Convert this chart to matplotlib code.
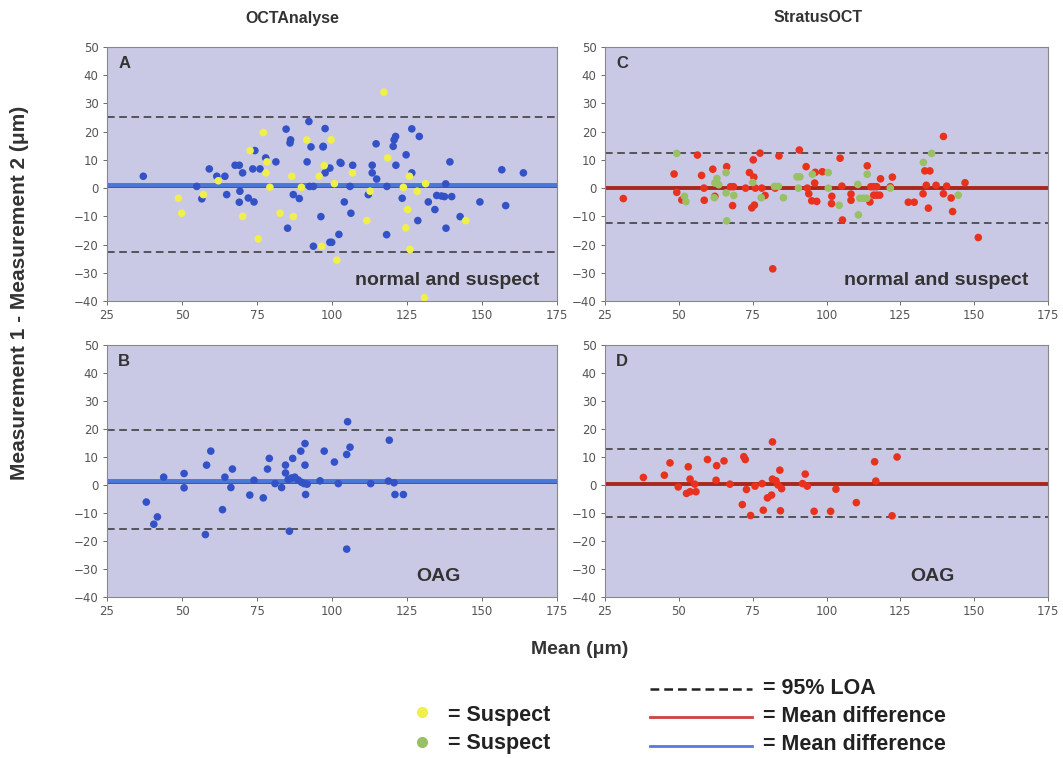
import numpy as np
import matplotlib.pyplot as plt
from matplotlib.lines import Line2D

# Panel A - OCTAnalyse, normal (blue) and suspect (yellow)
a_norm_x = [37.1, 54.9, 56.6, 59.1, 61.6, 64.3, 64.9, 67.7, 69.1, 70.2, 69.3, 69.1, 72.1, 74.0,
            73.6, 76.0, 74.3, 77.9, 81.3, 84.7, 86.2, 86.0, 87.1, 89.1, 85.2, 91.7, 92.3, 93.0,
            97.0, 97.7, 92.5, 93.8, 97.7, 96.3, 93.8, 99.3, 97.1, 99.3, 99.9, 102.3, 102.7,
            103.0, 106.9, 104.1, 106.0, 106.3, 114.7, 113.4, 113.4, 114.9, 112.1, 118.3, 118.2,
            121.2, 120.4, 120.7, 121.3, 124.7, 126.6, 129.1, 126.6, 123.4, 128.6, 132.1, 134.9,
            136.5, 137.5, 139.9, 134.3, 137.9, 139.3, 138.0, 142.7, 149.3, 156.6, 157.9, 163.8]
a_norm_y = [4.2, 0.6, -3.8, 6.8, 4.2, 4.2, -2.3, 8.1, 8.1, 5.4, -1.1, -5.0, -3.5, -4.9,
            6.8, 6.8, 13.3, 10.7, 9.3, 20.9, 17.1, 16.0, -2.3, -3.7, -14.2, 9.3, 23.6, 14.6,
            14.6, 21.1, 0.6, 0.6, 5.4, -10.1, -20.6, -19.2, 14.8, 7.1, -19.2, -16.4, 9.1,
            8.8, 8.1, -4.9, 0.6, -8.9, 15.7, 8.1, 5.4, 3.2, -2.3, 0.6, -16.5,
            18.3, 14.8, 17.1, 8.1, 11.8, 21.0, 18.3, 5.4, -3.6, -11.5, -4.9, -2.6,
            -2.8, -3.0, -3.0, -7.6, 1.5, 9.3, -14.2, -10.1, -4.9, 6.5, -6.2, 5.4]
a_susp_x = [77.1, 72.7, 78.3, 78.0, 62.1, 57.1, 48.8, 49.9, 70.2, 75.4, 79.3, 82.7, 87.1, 86.6,
            89.8, 91.6, 95.7, 97.4, 96.6, 117.3, 99.7, 106.8, 100.8, 112.7, 111.6, 118.6,
            125.8, 123.8, 128.4, 131.2, 125.2, 124.6, 126.0, 101.6, 130.8, 144.6]
a_susp_y = [19.7, 13.3, 9.3, 5.4, 2.6, -2.3, -3.6, -8.9, -10.0, -18.0, 0.3, -8.9, -10.1, 4.2,
            0.3, 17.1, 4.2, 8.0, -20.6, 34.0, 17.1, 5.4, 1.6, -1.1, -11.5, 10.7,
            4.2, 0.3, -1.1, 1.6, -7.6, -14.1, -21.7, -25.5, -38.8, -11.5]

# Panel B - OCTAnalyse, OAG
b_x = [38.1, 40.6, 41.8, 43.9, 50.7, 50.7, 58.2, 59.6, 57.8, 63.5, 64.3, 66.3, 66.8, 72.6, 74.0,
       77.1, 78.5, 79.1, 81.0, 83.2, 84.5, 84.5, 85.4, 86.5, 87.6, 88.7, 89.8, 90.7, 91.7,
       85.8, 86.9, 89.6, 91.0, 91.0, 91.2, 96.0, 97.4, 100.8, 102.1, 104.9, 106.0, 105.2,
       104.9, 112.9, 119.1, 118.8, 120.7, 121.0, 123.8]
b_y = [-6.1, -14.0, -11.4, 2.8, 4.1, -1.0, 7.1, 12.1, -17.7, -8.8, 2.8, -0.9, 5.7, -3.6, 1.7,
       -4.6, 5.7, 9.5, 0.5, -0.9, 7.1, 4.3, 2.0, 2.5, 2.8, 1.8, 1.0, 0.5, 0.3,
       -16.5, 9.5, 12.1, 14.8, 7.1, -3.4, 1.5, 12.1, 8.2, 0.5, 10.9, 13.5, 22.6,
       -22.9, 0.5, 16.0, 1.4, 0.8, -3.4, -3.4]

# Panel C - StratusOCT, normal (red) and suspect (green)
c_norm_x = [31.2, 48.4, 49.3, 51.0, 56.3, 57.7, 58.6, 58.5, 61.5, 62.2, 66.2, 68.2, 67.5, 68.5,
            73.9, 75.2, 77.5, 75.4, 74.7, 75.6, 72.6, 75.9, 78.1, 79.2, 83.9, 81.8, 82.6,
            90.8, 93.1, 93.5, 94.0, 95.0, 96.0, 96.2, 96.7, 98.6, 104.6, 101.8, 101.7, 105.4,
            105.2, 108.3, 108.3, 113.8, 115.0, 116.0, 117.0, 114.7, 116.0, 117.0, 118.0, 118.3,
            122.3, 121.6, 127.7, 129.7, 132.7, 133.3, 135.0, 133.8, 134.5, 137.1, 139.6, 139.6,
            140.7, 142.2, 142.7, 146.9, 151.4]
c_norm_y = [-3.7, 5.0, -1.5, -4.2, 11.7, 4.5, -4.3, 0.0, 6.7, -2.9, 7.6, -6.2, 0.5, 0.5,
            5.5, 10.0, 12.4, 3.9, -7.0, -6.0, 0.0, 0.0, 0.0, -2.6, 11.4, -28.6, 0.0,
            13.5, 7.6, 0.0, -2.0, -4.5, 1.8, 5.6, -4.7, 5.8, 10.6, -2.9, -5.5, -11.3,
            0.7, -2.1, -4.3, 7.9, 0.5, 0.5, 0.5, -4.9, -2.5, -2.5, -2.5, 3.3,
            3.9, 0.5, -5.0, -5.0, -2.0, 6.1, 6.1, 1.0, -7.1, 1.0, 18.3, -2.0,
            0.7, -3.5, -8.3, 1.9, -17.5]
c_susp_x = [49.3, 51.9, 52.4, 62.0, 62.2, 62.9, 63.5, 66.0, 66.0, 68.6, 66.2, 75.0, 77.9, 82.4,
            83.7, 85.4, 90.0, 91.0, 95.2, 90.5, 100.6, 100.6, 104.3, 110.6, 110.8, 111.3,
            112.5, 113.6, 113.8, 121.6, 132.8, 135.6, 144.6]
c_susp_y = [12.3, -2.9, -4.8, -3.4, 1.8, 3.4, 1.2, 5.5, -1.7, -2.6, -11.6, 2.0, -3.4, 0.6,
            0.6, -3.4, 4.0, 4.0, 4.9, 0.0, 5.5, 0.0, -6.1, 1.3, -9.5, -3.6,
            -3.6, -3.6, 4.9, 0.0, 9.1, 12.3, -2.5]

# Panel D - StratusOCT, OAG
d_x = [38.0, 45.1, 47.0, 49.8, 53.2, 53.8, 52.6, 53.8, 55.8, 55.4, 59.7, 62.8, 62.6, 65.3, 67.3,
       71.5, 72.0, 72.5, 72.9, 74.3, 75.8, 78.2, 78.6, 80.0, 81.7, 81.4, 81.7, 82.9, 83.6,
       84.2, 84.4, 84.8, 91.9, 92.8, 93.5, 95.8, 101.4, 103.2, 110.1, 116.3, 116.7, 122.2, 123.9]
d_y = [2.7, 3.5, 7.9, -0.7, 6.5, 2.1, -3.0, -2.4, -2.4, 0.3, 9.1, 6.9, 1.7, 8.6, 0.3,
       -7.0, 10.1, 9.1, -1.6, -10.9, -0.4, 0.5, -9.0, -4.6, 15.4, -3.6, 2.1, 1.5, 0.0,
       5.3, -9.2, -1.3, 0.5, 3.9, -0.4, -9.4, -9.4, -1.5, -6.3, 8.3, 1.4, -11.0, 10.0]

# mean difference and 95% limits of agreement (A, B, C, D)
mean_diff = [1.0, 1.3, 0.0, 0.3]
loa_upper = [25.2, 19.6, 12.3, 12.7]
loa_lower = [-22.7, -15.8, -12.5, -11.5]

BG = '#c9c9e5'
BLUE = '#3452c8'
YELLOW = '#f0f048'
RED = '#e8321e'
GREEN = '#98c064'
BLUE_LINE = '#4a78d8'
RED_LINE = '#a8281c'
ARIAL = 'Liberation Sans'

fig = plt.figure(figsize=(10.63, 7.58), dpi=100)

pos = {
    'A': [107 / 1063, 1 - 301 / 758, 450 / 1063, 254 / 758],
    'C': [605 / 1063, 1 - 301 / 758, 443 / 1063, 254 / 758],
    'B': [107 / 1063, 1 - 597 / 758, 450 / 1063, 252 / 758],
    'D': [605 / 1063, 1 - 597 / 758, 443 / 1063, 252 / 758],
}

# letter, series, mean line colour, note, note right edge (axes fraction)
panels = [
    ('A', [(a_norm_x, a_norm_y, BLUE), (a_susp_x, a_susp_y, YELLOW)], BLUE_LINE, 'normal and suspect', 0.96),
    ('B', [(b_x, b_y, BLUE)], BLUE_LINE, 'OAG', 0.785),
    ('C', [(c_norm_x, c_norm_y, RED), (c_susp_x, c_susp_y, GREEN)], RED_LINE, 'normal and suspect', 0.955),
    ('D', [(d_x, d_y, RED)], RED_LINE, 'OAG', 0.79),
]

for i, (letter, series, line_col, note, note_x) in enumerate(panels):
    ax = fig.add_axes(pos[letter])
    ax.set_facecolor(BG)
    ax.set_xlim(25, 175)
    ax.set_ylim(-40, 50)
    ax.set_xticks(np.arange(25, 176, 25))
    ax.set_yticks(np.arange(-40, 51, 10))
    ax.tick_params(labelsize=8.5, colors='#555555', length=3, width=0.6, pad=3)
    for sp in ax.spines.values():
        sp.set_color('#888888')
        sp.set_linewidth(0.8)

    ax.axhline(loa_upper[i], color='#333333', lw=1.1, ls=(0, (5, 3)), zorder=2)
    ax.axhline(loa_lower[i], color='#333333', lw=1.1, ls=(0, (5, 3)), zorder=2)
    if line_col == BLUE_LINE:
        ax.axhline(mean_diff[i] - 0.6, color='#444444', lw=1.2, zorder=2)
    ax.axhline(mean_diff[i], color=line_col, lw=2.8, zorder=2)

    for xs, ys, col in series:
        ax.scatter(xs, ys, s=30, color=col, edgecolors='none', zorder=3)

    ax.text(0.025, 0.965, letter, transform=ax.transAxes, fontsize=12, fontweight='bold',
            family=ARIAL, color='#333333', va='top', ha='left')
    ax.text(note_x, 0.08, note, transform=ax.transAxes, fontsize=14, fontweight='bold',
            family=ARIAL, color='#333333', va='center', ha='right')

fig.text(292 / 1063, 1 - 18 / 758, 'OCTAnalyse', ha='center', va='center', family=ARIAL,
         fontsize=11.5, fontweight='bold', color='#333333')
fig.text(818 / 1063, 1 - 18 / 758, 'StratusOCT', ha='center', va='center', family=ARIAL,
         fontsize=11.5, fontweight='bold', color='#333333')
fig.text(20 / 1063, 1 - 293 / 758, 'Measurement 1 - Measurement 2 (\u03bcm)', rotation=90,
         ha='center', va='center', fontsize=15, fontweight='bold', family=ARIAL, color='#333333')
fig.text(580 / 1063, 1 - 650 / 758, 'Mean (\u03bcm)', ha='center', va='center', family=ARIAL,
         fontsize=14, fontweight='bold', color='#333333')

# legend block
LEG = 15.5
fig.text(448 / 1063, 1 - 716 / 758, '= Suspect', ha='left', va='center', fontsize=LEG,
         fontweight='bold', family=ARIAL, color='#222222')
fig.text(448 / 1063, 1 - 743 / 758, '= Suspect', ha='left', va='center', fontsize=LEG,
         fontweight='bold', family=ARIAL, color='#222222')
fig.add_artist(Line2D([422 / 1063], [1 - 712 / 758], marker='o', ms=7, color=YELLOW, lw=0))
fig.add_artist(Line2D([422 / 1063], [1 - 742 / 758], marker='o', ms=7, color=GREEN, lw=0))

fig.add_artist(Line2D([650 / 1063, 752 / 1063], [1 - 689 / 758] * 2, color='#222222', lw=1.8,
                      ls=(0, (3.5, 2))))
fig.add_artist(Line2D([650 / 1063, 752 / 1063], [1 - 717 / 758] * 2, color='#d04040', lw=2))
fig.add_artist(Line2D([650 / 1063, 752 / 1063], [1 - 746 / 758] * 2, color='#5878e0', lw=2))
fig.text(763 / 1063, 1 - 689 / 758, '= 95% LOA', ha='left', va='center', fontsize=LEG,
         fontweight='bold', family=ARIAL, color='#222222')
fig.text(763 / 1063, 1 - 717 / 758, '= Mean difference', ha='left', va='center', fontsize=LEG,
         fontweight='bold', family=ARIAL, color='#222222')
fig.text(763 / 1063, 1 - 745 / 758, '= Mean difference', ha='left', va='center', fontsize=LEG,
         fontweight='bold', family=ARIAL, color='#222222')

fig.savefig('out.png', dpi=100)
